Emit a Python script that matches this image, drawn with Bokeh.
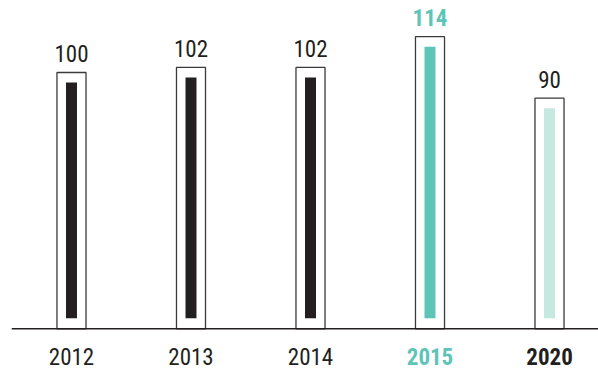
from bokeh.plotting import figure
from bokeh.models import ColumnDataSource, Range1d, Span
from bokeh.core.properties import value
from bokeh.embed import file_html
from bokeh.resources import INLINE

# ---- data ----
years = ["2012", "2013", "2014", "2015", "2020"]
values = [100, 102, 102, 114, 90]

# ---- styles ----
bar_colors = ["#231f20", "#231f20", "#231f20", "#5ec4b7", "#c5e8e1"]
value_label_colors = ["#231f20", "#231f20", "#231f20", "#5ec4b7", "#231f20"]
value_label_styles = ["normal", "normal", "normal", "bold", "normal"]
year_label_colors = ["#231f20", "#231f20", "#231f20", "#5ec4b7", "#231f20"]
year_label_styles = ["normal", "normal", "normal", "bold", "bold"]

FONT = value("Roboto Condensed")
px = 1 / 2.563  # data units per pixel vertically

xs = list(range(len(years)))
src = ColumnDataSource(dict(
    x=xs, year=years, v=values,
    vtxt=[str(v) for v in values],
    inner_top=[v - 10 * px for v in values],
    bar_color=bar_colors,
    vcol=value_label_colors, vsty=value_label_styles,
    ycol=year_label_colors, ysty=year_label_styles,
    zero=[0] * len(years),
))

p = figure(width=598, height=371, output_backend="svg", toolbar_location=None,
           x_range=Range1d(-0.502, 4.41), y_range=Range1d(-16.66, 128.1),
           x_axis_location=None, y_axis_location=None,
           min_border_left=11, min_border_right=0, min_border_top=0, min_border_bottom=0)
p.outline_line_color = None
p.xgrid.visible = False
p.ygrid.visible = False

# outer boxes
p.vbar(x="x", top="v", bottom=0, width=0.243, source=src,
       fill_color="white", line_color="#3a3a3a", line_width=1.3)
# inner bars
p.vbar(x="x", top="inner_top", bottom=10.6 * px, width=0.092, source=src,
       fill_color="bar_color", line_color=None)

# baseline
p.add_layout(Span(location=0, dimension="width", line_color="#231f20", line_width=1.5))

# value labels
p.text(x="x", y="v", text="vtxt", source=src, text_align="center",
       text_baseline="alphabetic", y_offset=-19, text_font=FONT,
       text_font_size="23px", text_color="vcol", text_font_style="vsty")

# year labels
p.text(x="x", y="zero", text="year", source=src, text_align="center",
       text_baseline="alphabetic", y_offset=28, text_font=FONT,
       text_font_size="23px", text_color="ycol", text_font_style="ysty")

open("out.html", "w").write(file_html(p, INLINE))
